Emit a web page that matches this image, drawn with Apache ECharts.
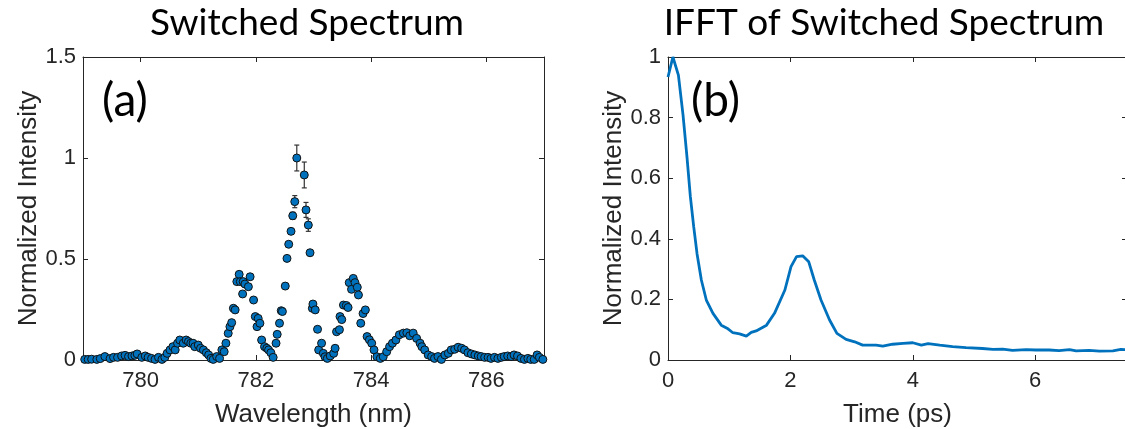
<!DOCTYPE html>
<html>
<head>
<meta charset="utf-8">
<script src="https://cdn.jsdelivr.net/npm/echarts@6/dist/echarts.min.js"></script>
<style>html,body{margin:0;padding:0;background:#fff}#c{width:1125px;height:429px}</style>
</head>
<body>
<div id="c"></div>
<script>
// ---- Panel (a): switched spectrum ----
const wavelength = [
779.03,779.09,779.15,779.24,779.30,779.38,779.47,779.53,779.60,779.67,779.73,779.79,779.85,779.90,779.94,
780.02,780.08,780.13,780.19,780.25,780.31,780.37,780.42,780.46,780.51,780.56,780.60,780.64,780.68,780.74,
780.79,780.83,780.87,780.91,780.94,781.00,781.04,781.09,781.14,781.18,781.22,781.26,781.32,781.37,781.41,
781.45,781.48,781.52,781.55,781.58,781.61,781.64,781.67,781.71,781.73,781.77,781.78,781.81,781.87,781.90,
781.96,781.99,782.02,782.04,782.07,782.10,782.15,782.19,782.22,782.26,782.30,782.35,782.37,782.41,782.44,
782.46,782.51,782.54,782.57,782.61,782.64,782.675,782.71,782.84,782.87,782.91,782.94,782.98,782.99,783.03,
783.07,783.09,783.14,783.17,783.20,783.24,783.29,783.35,783.375,783.40,783.45,783.46,783.49,783.52,783.57,
783.60,783.62,783.66,783.69,783.72,783.76,783.78,783.82,783.86,783.90,783.93,783.97,784.01,784.05,784.10,
784.16,784.21,784.27,784.32,784.37,784.43,784.49,784.56,784.62,784.67,784.73,784.79,784.85,784.88,784.93,
784.99,785.05,785.10,785.16,785.22,785.28,785.34,785.39,785.45,785.51,785.57,785.62,785.68,785.74,785.80,
785.86,785.91,785.97,786.03,786.08,786.14,786.20,786.26,786.31,786.37,786.43,786.48,786.54,786.60,786.66,
786.72,786.77,786.83,786.88,786.92,786.98
];
const intensity = [
0.003,0.003,0.004,0.003,0.007,0.017,0.007,0.013,0.013,0.020,0.023,0.017,0.020,0.023,0.030,
0.013,0.020,0.013,0.008,0.003,0.013,0.003,0.013,0.033,0.050,0.066,0.050,0.083,0.099,0.083,
0.099,0.091,0.083,0.083,0.066,0.074,0.058,0.050,0.036,0.025,0.008,0.003,0.017,0.008,0.050,
0.041,0.083,0.132,0.165,0.185,0.256,0.248,0.388,0.424,0.388,0.327,0.388,0.376,0.363,0.412,
0.297,0.215,0.165,0.206,0.182,0.099,0.066,0.058,0.050,0.036,0.013,0.083,0.127,0.182,0.244,
0.240,0.366,0.503,0.573,0.637,0.714,0.784,1.000,0.916,0.743,0.668,0.531,0.256,0.277,0.248,
0.152,0.050,0.083,0.033,0.016,0.008,0.020,0.033,0.058,0.140,0.150,0.215,0.200,0.272,0.270,
0.260,0.383,0.350,0.404,0.383,0.360,0.322,0.182,0.230,0.248,0.116,0.100,0.083,0.050,0.016,
0.008,0.016,0.041,0.066,0.083,0.099,0.125,0.133,0.135,0.120,0.133,0.107,0.083,0.066,0.050,
0.025,0.017,0.008,0.017,0.003,0.025,0.033,0.050,0.053,0.063,0.058,0.050,0.036,0.030,0.025,
0.020,0.017,0.013,0.013,0.008,0.013,0.008,0.013,0.017,0.020,0.017,0.025,0.020,0.008,0.003,
0.008,0.003,0.003,0.025,0.013,0.003
];
// error bars (half-widths) at selected wavelengths
const errWavelength = [782.61, 782.64, 782.675, 782.71, 782.84, 782.87, 782.91];
const errHalf       = [0.012, 0.018, 0.030, 0.064, 0.064, 0.037, 0.031];

const aXTicks = [780, 782, 784, 786];
const aYTicks = [0, 0.5, 1, 1.5];

// ---- Panel (b): IFFT ----
const timePs = [0,0.08,0.17,0.245,0.31,0.365,0.42,0.475,0.545,0.626,0.735,0.87,0.98,1.06,1.17,1.28,1.36,1.44,
1.61,1.74,1.91,2.01,2.10,2.20,2.30,2.39,2.50,2.64,2.76,2.91,3.05,3.18,3.40,3.51,3.67,3.84,4.00,4.14,4.25,
4.44,4.65,4.87,5.14,5.31,5.47,5.63,5.85,6.01,6.23,6.39,6.56,6.67,6.88,7.05,7.27,7.40,7.50];
const ifftVal = [0.934,1.000,0.940,0.810,0.670,0.540,0.440,0.350,0.264,0.198,0.154,0.115,0.103,0.090,0.086,0.079,0.091,0.096,
0.115,0.154,0.231,0.308,0.341,0.344,0.324,0.264,0.198,0.132,0.088,0.068,0.060,0.049,0.049,0.046,0.052,0.055,0.057,0.049,0.054,
0.049,0.044,0.041,0.038,0.035,0.036,0.032,0.034,0.033,0.033,0.031,0.034,0.030,0.032,0.029,0.030,0.035,0.034];
const bXTicks = [0, 2, 4, 6];
const bYTicks = [0, 0.2, 0.4, 0.6, 0.8, 1];

const AX = '#262626';
const tickFont = {fontFamily:'Liberation Sans', fontSize:22, color:AX};
const nameFont = {fontFamily:'Liberation Sans', fontSize:26, color:AX};
function axisBase(extra){
  return Object.assign({
    axisLine:{show:true, onZero:false, lineStyle:{color:AX, width:1}},
    axisTick:{show:true, inside:true, length:5, lineStyle:{color:AX, width:1}},
    splitLine:{show:false},
  }, extra);
}

const scatterData = wavelength.map((w,i)=>[w,intensity[i]]);
const errData = errWavelength.map((w,i)=>{
  const idx = wavelength.indexOf(w);
  const c = intensity[idx];
  return [w, c - errHalf[i], c + errHalf[i]];
});
const lineData = timePs.map((t,i)=>[t, ifftVal[i]]);

const chart = echarts.init(document.getElementById('c'));
chart.setOption({
  animation:false,
  grid:[
    {left:83, right:581, top:57, bottom:69, containLabel:false, outerBoundsMode:'none'},
    {left:668, right:-2, top:57, bottom:69, containLabel:false, outerBoundsMode:'none'}
  ],
  xAxis:[
    axisBase({gridIndex:0, type:'value', min:779, max:787, position:'bottom',
      axisTick:{show:true, inside:true, length:5, customValues:aXTicks, lineStyle:{color:AX}},
      axisLabel:Object.assign({customValues:aXTicks, margin:10}, tickFont),
      name:'Wavelength (nm)', nameLocation:'middle', nameGap:42, nameTextStyle:nameFont}),
    axisBase({gridIndex:0, type:'value', min:779, max:787, position:'top',
      axisTick:{show:true, inside:true, length:5, customValues:aXTicks, lineStyle:{color:AX}},
      axisLabel:{show:false}}),
    axisBase({gridIndex:1, type:'value', min:0, max:7.5, interval:2, position:'bottom',
      axisTick:{show:true, inside:true, length:5, customValues:bXTicks, lineStyle:{color:AX}},
      axisLabel:Object.assign({customValues:bXTicks, margin:10}, tickFont),
      name:'Time (ps)', nameLocation:'middle', nameGap:42, nameTextStyle:nameFont}),
    axisBase({gridIndex:1, type:'value', min:0, max:7.5, position:'top',
      axisTick:{show:true, inside:true, length:5, customValues:bXTicks, lineStyle:{color:AX}},
      axisLabel:{show:false}})
  ],
  yAxis:[
    axisBase({gridIndex:0, type:'value', min:0, max:1.5, interval:0.5, position:'left',
      axisLabel:Object.assign({margin:7, formatter:v=>String(v)}, tickFont),
      name:'Normalized Intensity', nameLocation:'middle', nameGap:40, nameTextStyle:nameFont}),
    axisBase({gridIndex:0, type:'value', min:0, max:1.5, interval:0.5, position:'right',
      axisLabel:{show:false}}),
    axisBase({gridIndex:1, type:'value', min:0, max:1, interval:0.2, position:'left',
      axisLabel:Object.assign({margin:7, formatter:v=>String(+v.toFixed(1))}, tickFont),
      name:'Normalized Intensity', nameLocation:'middle', nameGap:38, nameTextStyle:nameFont}),
    axisBase({gridIndex:1, type:'value', min:0, max:1, interval:0.2, position:'right',
      axisLabel:{show:false}})
  ],
  series:[
    {type:'custom', xAxisIndex:0, yAxisIndex:0, data:errData, z:1,
      renderItem:function(params, api){
        const x = api.value(0);
        const lo = api.coord([x, api.value(1)]);
        const hi = api.coord([x, api.value(2)]);
        const cap = 2.5;
        const st = {stroke:'#333', lineWidth:1.2};
        return {type:'group', children:[
          {type:'line', shape:{x1:lo[0], y1:lo[1], x2:hi[0], y2:hi[1]}, style:st},
          {type:'line', shape:{x1:lo[0]-cap, y1:lo[1], x2:lo[0]+cap, y2:lo[1]}, style:st},
          {type:'line', shape:{x1:hi[0]-cap, y1:hi[1], x2:hi[0]+cap, y2:hi[1]}, style:st}
        ]};
      }},
    {type:'scatter', xAxisIndex:0, yAxisIndex:0, data:scatterData, symbol:'circle', symbolSize:8, z:2,
      itemStyle:{color:'#0072BD', borderColor:'#111', borderWidth:1, opacity:1}},
    {type:'line', xAxisIndex:2, yAxisIndex:2, data:lineData, showSymbol:false, symbol:'none',
      lineStyle:{color:'#0072BD', width:2.8}, clip:true}
  ],
  graphic:[
    {type:'text', x:307, y:23, style:{text:'Switched Spectrum', font:'37px Lato', fill:'#000', textAlign:'center', textVerticalAlign:'middle'}},
    {type:'text', x:884, y:23, style:{text:'IFFT of Switched Spectrum', font:'37px Lato', fill:'#000', textAlign:'center', textVerticalAlign:'middle'}},
    {type:'text', x:102, y:101, style:{text:'(a)', font:'46px Lato', fill:'#000', textAlign:'left', textVerticalAlign:'middle'}},
    {type:'text', x:691, y:101, style:{text:'(b)', font:'46px Lato', fill:'#000', textAlign:'left', textVerticalAlign:'middle'}}
  ]
});
</script>
</body>
</html>
